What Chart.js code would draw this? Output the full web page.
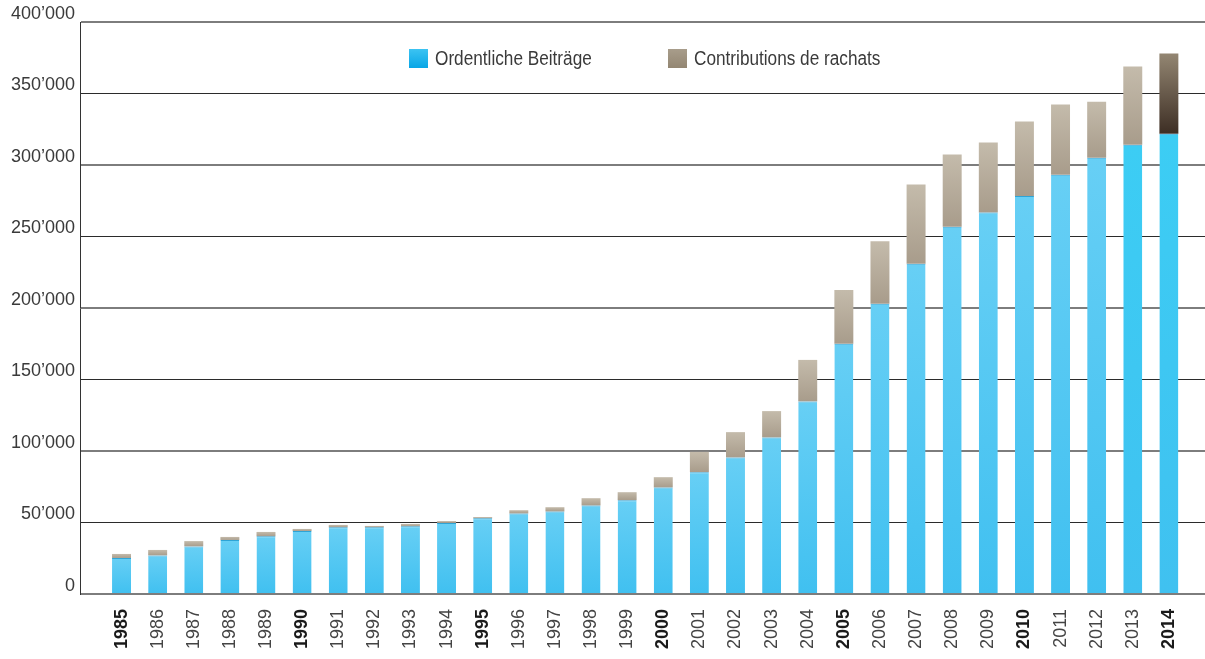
<!DOCTYPE html>
<html>
<head>
<meta charset="utf-8">
<script src="https://cdn.jsdelivr.net/npm/chart.js@4.4.1/dist/chart.umd.min.js"></script>
<style>
  html, body { margin: 0; padding: 0; background: #fff; }
  #wrap { position: relative; width: 1205px; height: 659px; }
  #legend {
    position: absolute; left: 0; top: 49px; width: 1205px; height: 20px;
    font-family: "Liberation Sans", sans-serif;
    font-size: 20px; color: #3a3a3a;
  }
  #legend .item { position: absolute; top: 0; display: flex; align-items: center; white-space: nowrap; }
  #legend .box { width: 19px; height: 19px; margin-right: 7px; flex: none; }
  #legend .txt { display: inline-block; transform: scaleX(0.86); transform-origin: left center; line-height: 19px; }
</style>
</head>
<body>
<div id="wrap">
  <canvas id="beitraegeChart" width="1205" height="659"></canvas>
  <div id="legend"></div>
</div>
<script>
// ===============================
// DONNÉES
// ===============================

const years = [
    1985, 1986, 1987, 1988, 1989, 1990, 1991, 1992, 1993, 1994,
    1995, 1996, 1997, 1998, 1999, 2000, 2001, 2002, 2003, 2004,
    2005, 2006, 2007, 2008, 2009, 2010, 2011, 2012, 2013, 2014
];

// Ordentliche Beiträge
const ordentlich = [
    25200, 27000, 33300, 37800, 40300, 44000, 46600, 46600, 47300, 49700,
    52900, 56300, 57700, 61900, 65600, 74500, 85200, 95500, 109500, 134700,
    175000, 203000, 230900, 256800, 266700, 278300, 293200, 305000, 314100, 321900
];

// Contributions de rachats
const rachats = [
    2800, 3800, 3700, 2100, 3100, 1500, 1700, 1000, 1700, 1300,
    900, 2300, 3000, 5100, 5600, 7200, 14200, 17700, 18400, 29000,
    37600, 43600, 55400, 50500, 49100, 52100, 49100, 39200, 54700, 56000
];

const seriesLabels = ['Ordentliche Beiträge', 'Contributions de rachats'];
const yTicks = [0, 50000, 100000, 150000, 200000, 250000, 300000, 350000, 400000];

// ===============================
// COULEURS
// ===============================

const FONT = '"Liberation Sans", sans-serif';
const lastYear = years[years.length - 1];

// années en gras : tous les 5 ans + la dernière
const isBoldYear = ctx => !!ctx.tick && (ctx.tick.value % 5 === 0 || ctx.tick.value === lastYear);

function segGradient(ctx, topVal, baseVal, from, to) {
    const chart = ctx.chart;
    const y = chart.scales.y;
    if (!chart.chartArea || !y) return to;
    const top = y.getPixelForValue(topVal);
    const bottom = y.getPixelForValue(baseVal);
    const g = chart.ctx.createLinearGradient(0, top, 0, Math.max(bottom, top + 1));
    g.addColorStop(0, from);
    g.addColorStop(1, to);
    return g;
}

function blueFill(ctx) {
    const i = ctx.dataIndex;
    if (i === undefined) return '#3ec0f0';
    if (years[i] >= 2013) return segGradient(ctx, ordentlich[i], 0, '#3ccdf4', '#40c1f0');
    return segGradient(ctx, ordentlich[i], 0, '#67cff5', '#40c0f0');
}

function tanFill(ctx) {
    const i = ctx.dataIndex;
    if (i === undefined) return '#a99e8e';
    const top = ordentlich[i] + rachats[i];
    if (years[i] === lastYear) return segGradient(ctx, top, ordentlich[i], '#938672', '#3d2e24');
    return segGradient(ctx, top, ordentlich[i], '#c4bbab', '#a89c8b');
}

// ===============================
// GRAPHIQUE
// ===============================

new Chart(document.getElementById('beitraegeChart'), {
    type: 'bar',
    data: {
        labels: years,
        datasets: [{
            label: seriesLabels[0],
            data: ordentlich,
            backgroundColor: blueFill,
            borderColor: '#2ea4d6',
            borderWidth: { top: 1, right: 0, bottom: 0, left: 0 },
            borderSkipped: false
        }, {
            label: seriesLabels[1],
            data: rachats,
            backgroundColor: tanFill,
            borderWidth: 0
        }]
    },
    options: {
        responsive: false,
        animation: false,
        barPercentage: 0.525,
        categoryPercentage: 1,
        layout: { padding: { top: 22, right: 0, left: 0, bottom: 0 } },
        plugins: {
            legend: { display: false },
            tooltip: { enabled: false }
        },
        scales: {
            x: {
                type: 'linear',
                stacked: true,
                offset: false,
                bounds: 'data',
                min: 1983.85,
                max: 2015,
                afterBuildTicks: axis => { axis.ticks = years.map(v => ({ value: v })); },
                afterFit: axis => {
                    axis.height = 65;
                    axis.paddingLeft = 0;
                    axis.paddingRight = 0;
                },
                grid: { display: false, drawTicks: false },
                border: { display: false },
                ticks: {
                    autoSkip: false,
                    minRotation: 90,
                    maxRotation: 90,
                    padding: 15,
                    callback: v => String(v),
                    color: ctx => isBoldYear(ctx) ? '#1a1a1a' : '#444',
                    font: ctx => ({
                        family: FONT,
                        size: 18,
                        weight: isBoldYear(ctx) ? 'bold' : 'normal'
                    })
                }
            },
            y: {
                stacked: true,
                min: 0,
                max: 400000,
                z: 1,
                afterBuildTicks: axis => { axis.ticks = yTicks.map(v => ({ value: v })); },
                afterFit: axis => { axis.width = 80; },
                grid: {
                    drawTicks: false,
                    color: ctx => (ctx.tick && ctx.tick.value % 100000 === 0) ? 'rgba(70,70,70,0.7)' : '#2b2b2b',
                    lineWidth: ctx => (ctx.tick && ctx.tick.value % 100000 === 0) ? 2 : 1
                },
                border: { display: true, color: '#333', width: 1 },
                ticks: {
                    padding: 5,
                    labelOffset: -8,
                    color: '#3a3a3a',
                    font: { family: FONT, size: 18 },
                    callback: v => String(v).replace(/\B(?=(\d{3})+(?!\d))/g, '\u2019')
                }
            }
        }
    }
});

// ===============================
// LÉGENDE
// ===============================

const legendBoxes = [
    'linear-gradient(#3cc3f2, #08a6e6)',
    'linear-gradient(#a89d8b, #938672)'
];
const legendLeft = [409, 668];
const legend = document.getElementById('legend');
seriesLabels.forEach((label, i) => {
    const item = document.createElement('div');
    item.className = 'item';
    item.style.left = legendLeft[i] + 'px';
    const box = document.createElement('span');
    box.className = 'box';
    box.style.background = legendBoxes[i];
    const txt = document.createElement('span');
    txt.className = 'txt';
    txt.textContent = label;
    item.appendChild(box);
    item.appendChild(txt);
    legend.appendChild(item);
});
</script>
</body>
</html>
